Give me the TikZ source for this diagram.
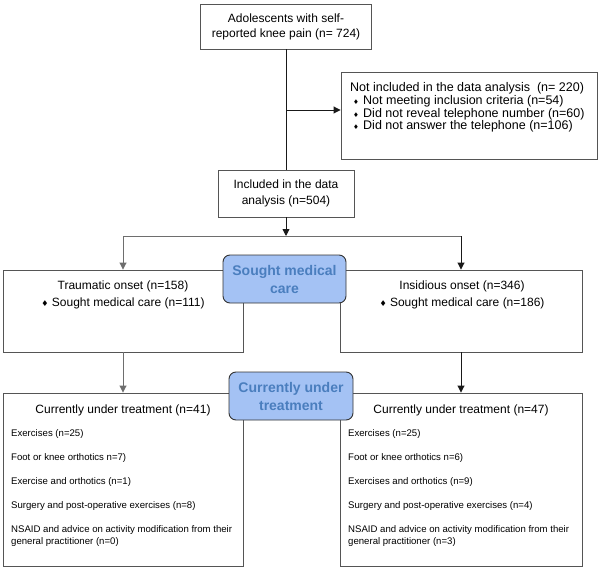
\documentclass[tikz,border=0pt]{standalone}
\usepackage{fontspec}
\setmainfont{Liberation Sans}
\newfontfamily\symfont{DejaVu Sans}
\usetikzlibrary{arrows.meta}
\definecolor{boxline}{RGB}{85,85,85}
\definecolor{greyline}{RGB}{110,110,110}
\definecolor{darkline}{RGB}{25,25,25}
\definecolor{bluefill}{RGB}{164,194,244}
\definecolor{bluetext}{RGB}{74,126,190}
\newcommand{\mydia}{{\symfont\fontsize{8bp}{8bp}\selectfont ♦}}
\newcommand{\smalldia}{{\symfont\fontsize{6.5bp}{6.5bp}\selectfont ♦}}
\tikzset{
  frame/.style={draw=boxline, line width=0.9bp, inner sep=0pt, rectangle},
  bluebox/.style={draw=black!80, line width=0.9bp, fill=bluefill, rounded corners=7bp,
    inner sep=0pt, align=center, text=bluetext,
    font=\fontsize{14bp}{18bp}\selectfont\bfseries},
  txt/.style={inner sep=0pt, font=\fontsize{12bp}{15bp}\selectfont},
  smalltxt/.style={inner sep=0pt, align=left, font=\fontsize{9.6bp}{12bp}\selectfont},
  arrowtip/.style={-{Triangle[length=7bp,width=7bp]}},
  darkconn/.style={draw=darkline, line width=0.9bp},
  greyconn/.style={draw=greyline, line width=0.9bp}
}
\begin{document}
\begin{tikzpicture}[x=1bp,y=-1bp]
\useasboundingbox (0,0) rectangle (600,570);

% boxes
\node[frame, txt, align=center, minimum width=171bp, minimum height=45bp] (top) at (286,26.5)
  {Adolescents with self-\\reported knee pain (n= 724)};
\node[frame, minimum width=256bp, minimum height=87bp] (notinc) at (469,115.5) {};
\node[txt, align=left, anchor=west, font=\fontsize{12.5bp}{12.8bp}\selectfont] (notinctext) at (350,107.5)
  {Not included in the data analysis\ \ (n= 220)\\
   \hspace*{3bp}\makebox[10bp][l]{\smalldia}Not meeting inclusion criteria (n=54)\\
   \hspace*{3bp}\makebox[10bp][l]{\smalldia}Did not reveal telephone number (n=60)\\
   \hspace*{3bp}\makebox[10bp][l]{\smalldia}Did not answer the telephone (n=106)};
\node[frame, txt, align=center, font=\fontsize{12bp}{16.5bp}\selectfont, minimum width=136bp, minimum height=47bp] (incl) at (286,193.5)
  {Included in the data\\analysis (n=504)};

\node[frame, minimum width=240bp, minimum height=82bp] (trau) at (123,311) {};
\node[txt, align=center, font=\fontsize{12bp}{17.5bp}\selectfont] (trautext) at (123,295)
  {Traumatic onset (n=158)\\\mydia\ Sought medical care (n=111)};
\node[frame, minimum width=242bp, minimum height=82bp] (insid) at (461,311) {};
\node[txt, align=center, font=\fontsize{12bp}{17.5bp}\selectfont] (insidtext) at (462,295)
  {Insidious onset (n=346)\\\mydia\ Sought medical care (n=186)};

\node[frame, minimum width=240bp, minimum height=173bp] (botl) at (123,479.5) {};
\node[txt] (botlhead) at (123,410) {Currently under treatment (n=41)};
\node[smalltxt, anchor=west] (botlitems) at (11,488.5)
  {Exercises (n=25)\\[12bp]
   Foot or knee orthotics n=7)\\[12bp]
   Exercise and orthotics (n=1)\\[12bp]
   Surgery and post-operative exercises (n=8)\\[12bp]
   NSAID and advice on activity modification from their\\
   general practitioner (n=0)};

\node[frame, minimum width=242bp, minimum height=173bp] (botr) at (461,479.5) {};
\node[txt] (botrhead) at (461,410) {Currently under treatment (n=47)};
\node[smalltxt, anchor=west] (botritems) at (348,488.5)
  {Exercises (n=25)\\[12bp]
   Foot or knee orthotics n=6)\\[12bp]
   Exercises and orthotics (n=9)\\[12bp]
   Surgery and post-operative exercises (n=4)\\[12bp]
   NSAID and advice on activity modification from their\\
   general practitioner (n=3)};

% blue labels
\node[bluebox, minimum width=123bp, minimum height=48bp] (sought) at (284.5,279)
  {Sought medical\\care};
\node[bluebox, minimum width=124bp, minimum height=48bp] (curr) at (291,396)
  {Currently under\\treatment};

% connectors
\coordinate (join) at (286,110);
\coordinate (split) at (286,236);
\draw[darkconn] (top.south) -- (incl.north);
\draw[darkconn, arrowtip] (join) -- (join -| notinc.west);
\draw[darkconn, arrowtip] (incl.south) -- (split);
\draw[greyconn] (trau.north |- split) -- (split);
\draw[greyconn] (split) -- (insid.north |- split);
\draw[greyconn, arrowtip] (trau.north |- split) -- (trau.north);
\draw[darkconn, arrowtip] (insid.north |- split) -- (insid.north);
\draw[greyconn, arrowtip] (trau.south) -- (botl.north);
\draw[darkconn, arrowtip] (insid.south) -- (botr.north);
\end{tikzpicture}
\end{document}
